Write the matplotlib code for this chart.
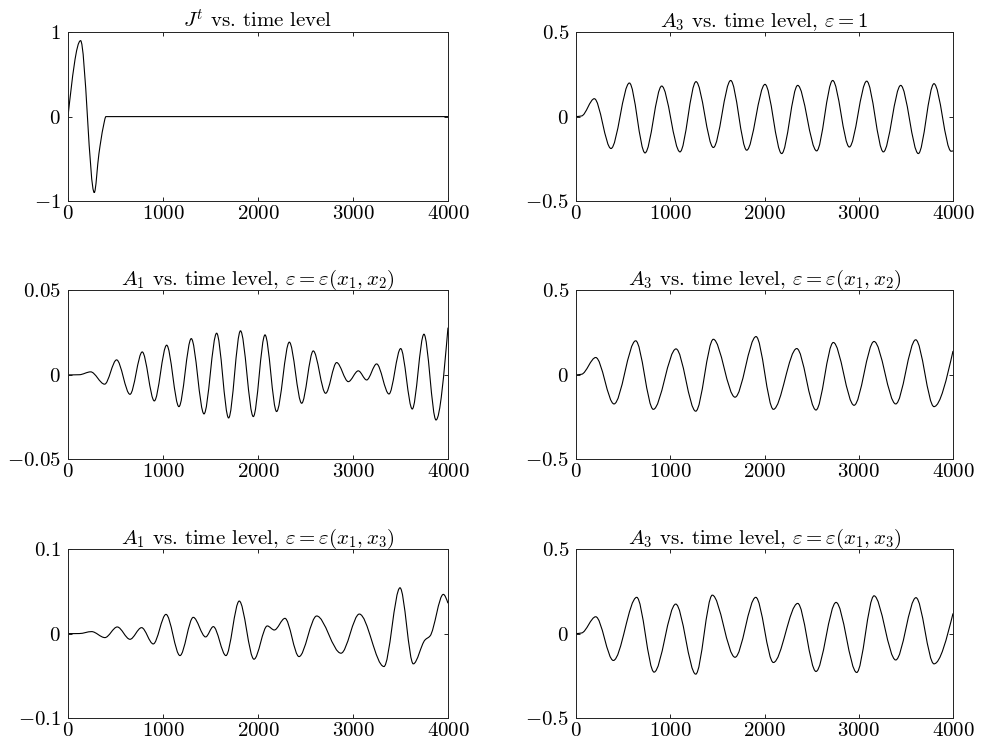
import numpy as np
import matplotlib
matplotlib.use('Agg')
import matplotlib.pyplot as plt
from matplotlib.path import Path
from matplotlib.patches import PathPatch

plt.rcParams['font.family'] = 'serif'
plt.rcParams['font.serif'] = ['cmr10']
plt.rcParams['mathtext.fontset'] = 'cm'

# values (time level, value) at the turning points
jt_time = [0, 133, 277, 326, 372, 400, 4000]
jt_value = [0, 0.9, -0.9, -0.44, -0.12, 0, 0]

a3_eps1_time = [0, 60, 194, 371, 566, 732, 909, 1103, 1273, 1457, 1641, 1811, 2005,
                2182, 2352, 2553, 2723, 2900, 3084, 3261, 3445, 3632, 3798, 3980, 4000]
a3_eps1_value = [0, 0.004, 0.106, -0.189, 0.199, -0.215, 0.181, -0.209, 0.207, -0.183,
                 0.214, -0.199, 0.191, -0.219, 0.185, -0.203, 0.214, -0.18, 0.21, -0.209,
                 0.185, -0.219, 0.195, -0.205, -0.203]

a1_x12_time = [0, 120, 239, 386, 512, 653, 782, 909, 1039, 1168, 1298, 1432, 1565, 1691,
               1816, 1951, 2074, 2196, 2330, 2460, 2582, 2712, 2828, 2951, 3056, 3144,
               3249, 3379, 3502, 3624, 3747, 3874, 4000]
a1_x12_value = [0, 0.0001, 0.0018, -0.0055, 0.0089, -0.0115, 0.0136, -0.0154, 0.0176,
                -0.0188, 0.0215, -0.0231, 0.0247, -0.0255, 0.0261, -0.0247, 0.0237,
                -0.0217, 0.0194, -0.0168, 0.0142, -0.0109, 0.0073, -0.004, 0.0024,
                -0.003, 0.0065, -0.0113, 0.0156, -0.0202, 0.0241, -0.0267, 0.028]

a3_x12_time = [0, 60, 209, 403, 633, 820, 1061, 1270, 1457, 1687, 1910, 2094, 2342,
               2546, 2730, 2950, 3162, 3392, 3604, 3798, 4000]
a3_x12_value = [0, 0.004, 0.103, -0.172, 0.202, -0.204, 0.154, -0.215, 0.211, -0.132,
                0.227, -0.204, 0.156, -0.208, 0.192, -0.18, 0.198, -0.172, 0.208, -0.188,
                0.142]

a1_x13_time = [0, 120, 249, 389, 519, 653, 775, 898, 1032, 1179, 1319, 1449, 1530, 1663,
               1803, 1958, 2098, 2172, 2284, 2432, 2618, 2874, 3067, 3326, 3495, 3635,
               3758, 3811, 3951, 4000]
a1_x13_value = [0, 0.0001, 0.0024, -0.0047, 0.0079, -0.0067, 0.0071, -0.0122, 0.0228,
                -0.026, 0.0193, -0.0039, 0.0083, -0.026, 0.0386, -0.0303, 0.0091, 0.0043,
                0.0181, -0.0272, 0.0209, -0.0232, 0.0232, -0.039, 0.0543, -0.0358,
                -0.0075, -0.0028, 0.0465, 0.036]

a3_x13_time = [0, 60, 209, 396, 644, 828, 1058, 1270, 1446, 1687, 1907, 2094, 2352,
               2546, 2759, 2978, 3162, 3392, 3607, 3798, 4000]
a3_x13_value = [0, 0.004, 0.1, -0.159, 0.215, -0.228, 0.175, -0.24, 0.228, -0.14, 0.215,
                -0.171, 0.179, -0.224, 0.185, -0.23, 0.224, -0.156, 0.213, -0.179, 0.12]

titles = [r'$J^t$ vs. time level',
          r'$A_3$ vs. time level, $\varepsilon=1$',
          r'$A_1$ vs. time level, $\varepsilon=\varepsilon(x_1,x_2)$',
          r'$A_3$ vs. time level, $\varepsilon=\varepsilon(x_1,x_2)$',
          r'$A_1$ vs. time level, $\varepsilon=\varepsilon(x_1,x_3)$',
          r'$A_3$ vs. time level, $\varepsilon=\varepsilon(x_1,x_3)$']

x_ticks = [0, 1000, 2000, 3000, 4000]
x_ticklabels = ['$0$', '$1000$', '$2000$', '$3000$', '$4000$']
y_ticks = [[-1, 0, 1], [-0.5, 0, 0.5], [-0.05, 0, 0.05],
           [-0.5, 0, 0.5], [-0.1, 0, 0.1], [-0.5, 0, 0.5]]
y_ticklabels = [['$-1$', '$0$', '$1$'], ['$-0.5$', '$0$', '$0.5$'],
                ['$-0.05$', '$0$', '$0.05$'], ['$-0.5$', '$0$', '$0.5$'],
                ['$-0.1$', '$0$', '$0.1$'], ['$-0.5$', '$0$', '$0.5$']]

series = [(jt_time, jt_value), (a3_eps1_time, a3_eps1_value),
          (a1_x12_time, a1_x12_value), (a3_x12_time, a3_x12_value),
          (a1_x13_time, a1_x13_value), (a3_x13_time, a3_x13_value)]


def end_slope(d, m_next):
    s = (3 * d - m_next) / 2
    if s * d <= 0:
        return 0.0
    if abs(s) > 3 * abs(d):
        return 3 * d
    return s


def smooth_path(t, v):
    # monotone cubic through the read points, drawn as bezier segments
    t = np.asarray(t, float)
    v = np.asarray(v, float)
    h = np.diff(t)
    d = np.diff(v) / h
    n = len(t)
    m = np.zeros(n)
    for i in range(1, n - 1):
        if d[i - 1] * d[i] > 0:
            w1 = 2 * h[i] + h[i - 1]
            w2 = h[i] + 2 * h[i - 1]
            m[i] = (w1 + w2) / (w1 / d[i - 1] + w2 / d[i])
    m[0] = end_slope(d[0], m[1])
    m[-1] = end_slope(d[-1], m[-2])
    verts = [(t[0], v[0])]
    codes = [Path.MOVETO]
    for i in range(n - 1):
        verts.append((t[i] + h[i] / 3, v[i] + m[i] * h[i] / 3))
        verts.append((t[i + 1] - h[i] / 3, v[i + 1] - m[i + 1] * h[i] / 3))
        verts.append((t[i + 1], v[i + 1]))
        codes += [Path.CURVE4] * 3
    return Path(verts, codes)


fig = plt.figure(figsize=(9.82, 7.42), dpi=100)

lefts = [0.0692, 0.5866]
widths = [0.3870, 0.3839]
bottoms = [0.7291, 0.3810, 0.0323]
height = 0.2275

for k in range(6):
    row, col = k // 2, k % 2
    ax = fig.add_axes([lefts[col], bottoms[row], widths[col], height])
    t, v = series[k]
    ax.add_patch(PathPatch(smooth_path(t, v), fill=False, edgecolor='black', lw=0.8))
    ax.set_xlim(0, 4000)
    ax.set_ylim(y_ticks[k][0], y_ticks[k][-1])
    ax.set_xticks(x_ticks)
    ax.set_xticklabels(x_ticklabels, fontsize=15)
    ax.set_yticks(y_ticks[k])
    ax.set_yticklabels(y_ticklabels[k], fontsize=15)
    ax.tick_params(direction='in', top=True, right=True, length=3, width=0.6)
    ax.tick_params(axis='x', pad=3)
    ax.tick_params(axis='y', pad=5)
    for sp in ax.spines.values():
        sp.set_linewidth(0.7)
        sp.set_color('#222222')
    ax.set_title(titles[k], fontsize=15, pad=4)

plt.savefig('out.png')
